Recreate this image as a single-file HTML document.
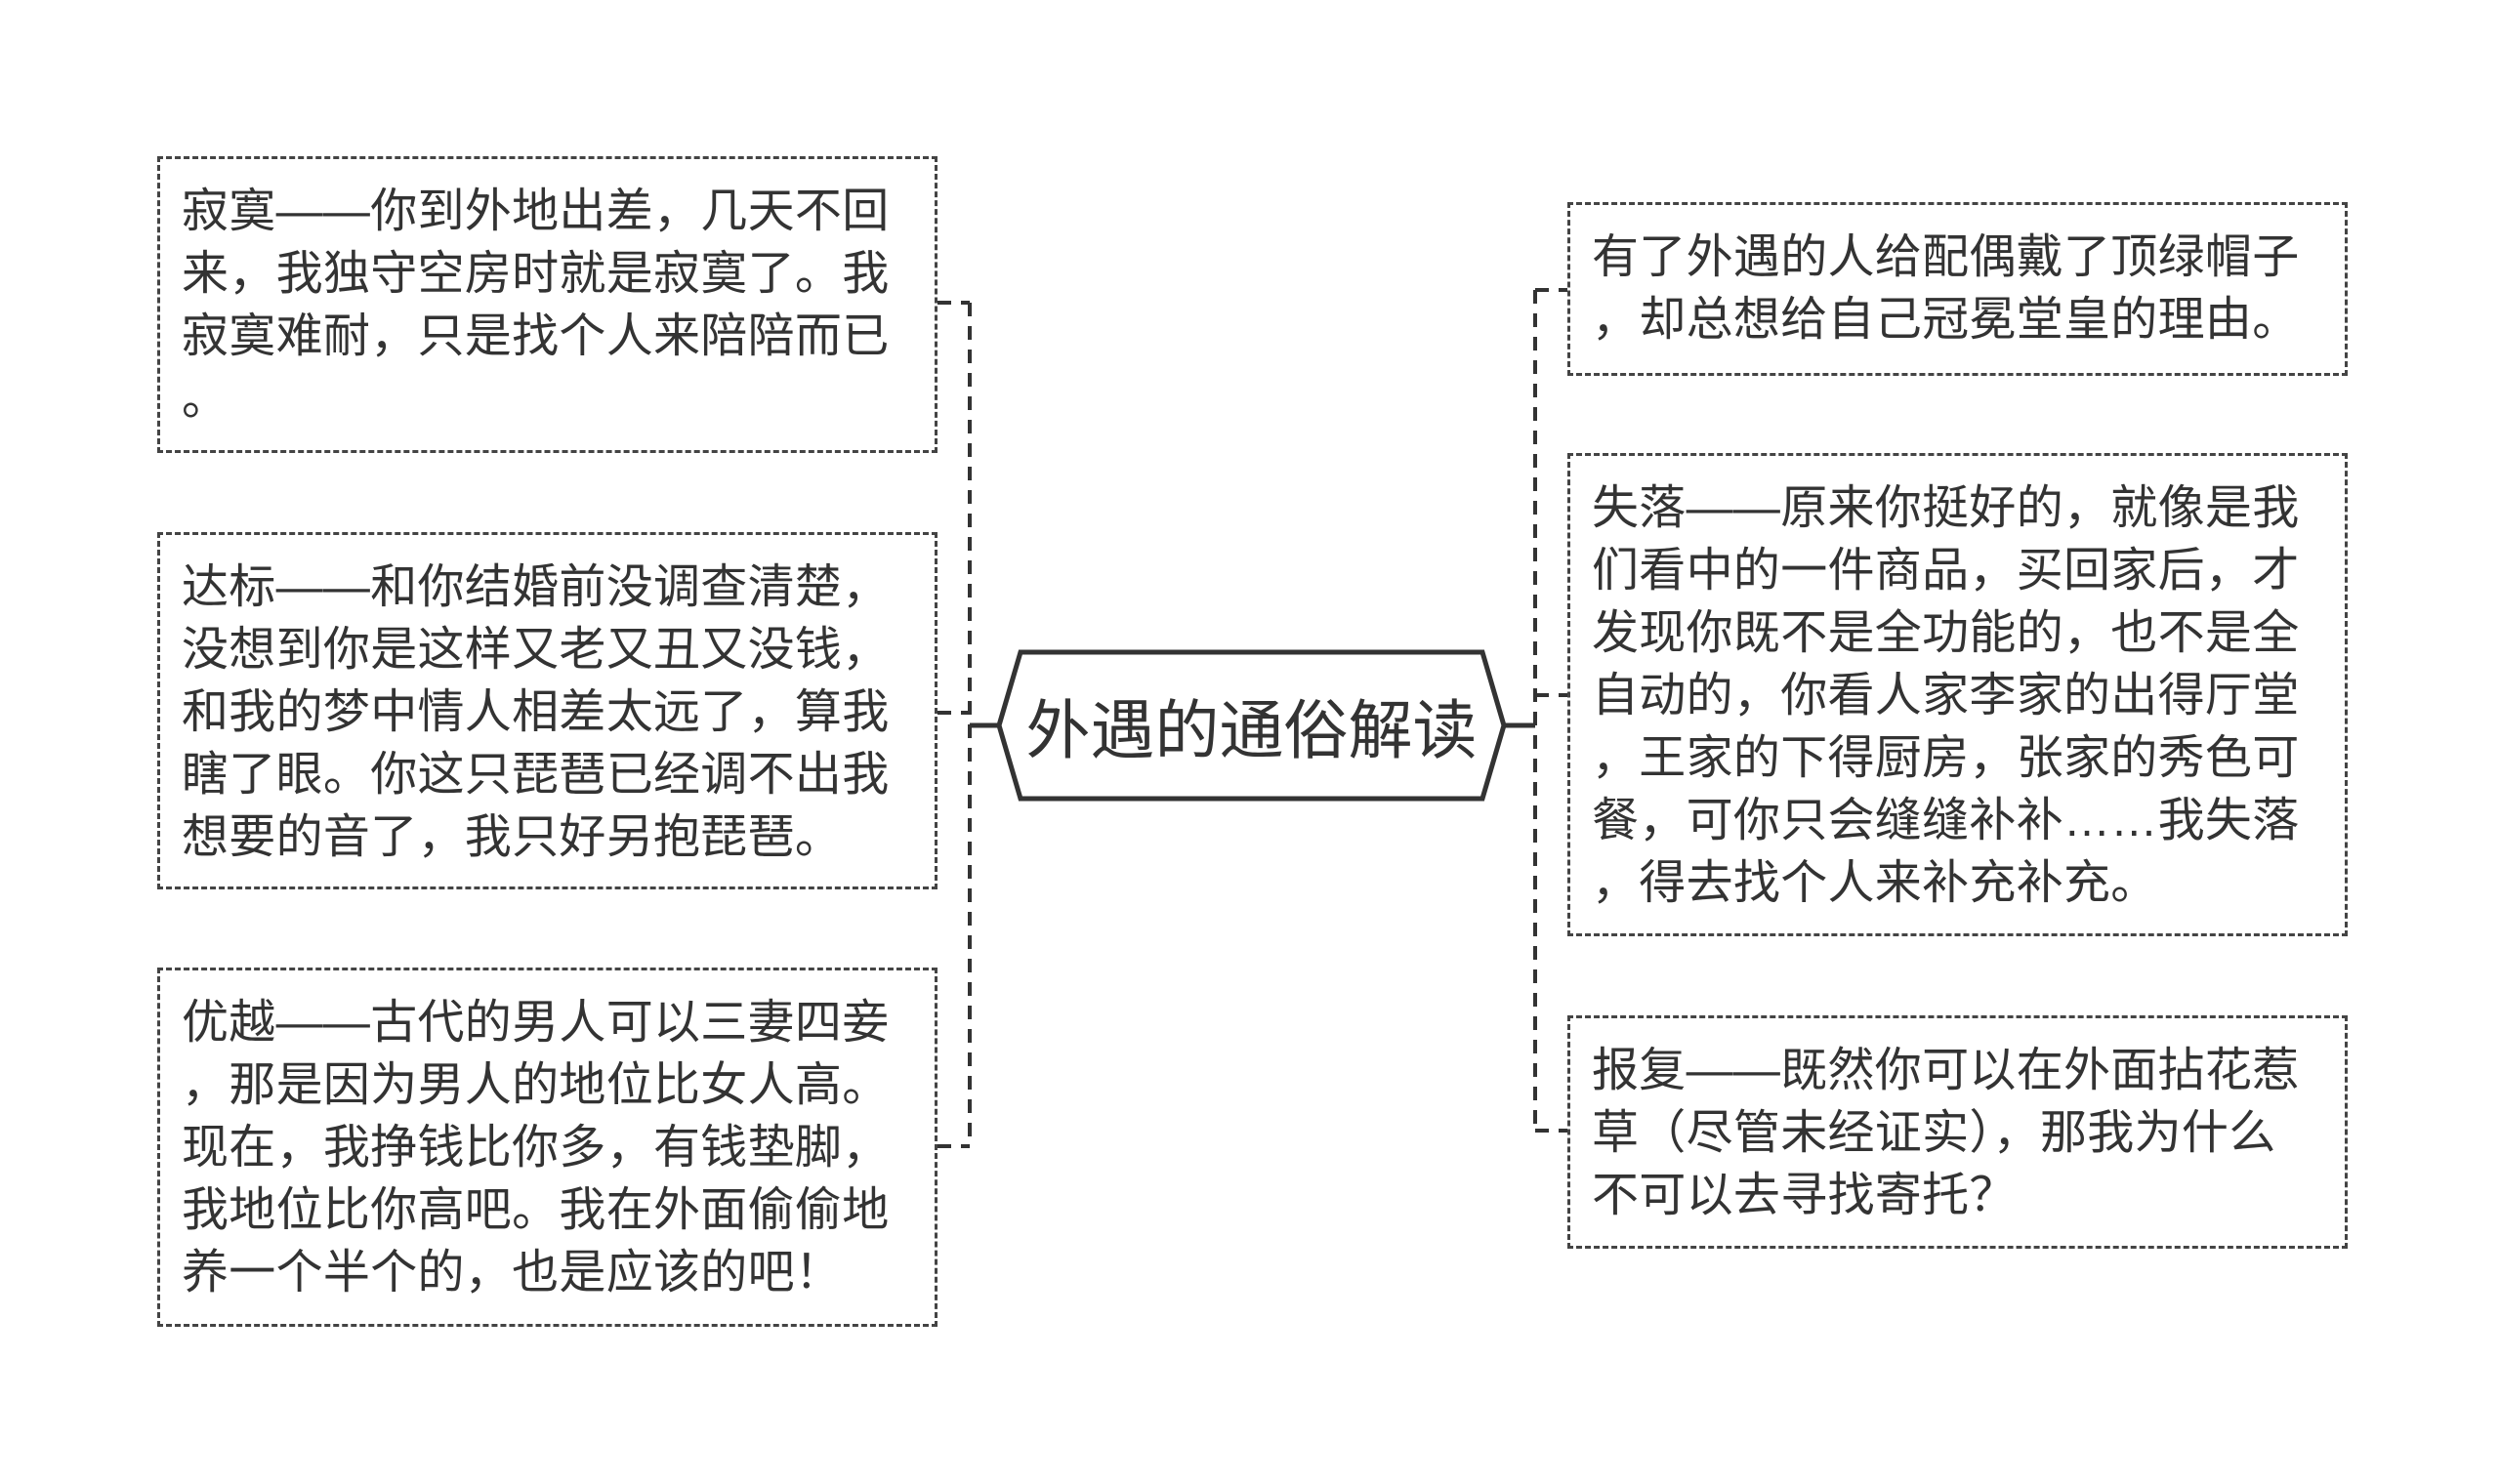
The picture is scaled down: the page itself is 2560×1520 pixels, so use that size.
<!DOCTYPE html>
<html><head><meta charset="utf-8"><style>
html,body{margin:0;padding:0;background:#fff;}
body{width:2560px;height:1520px;position:relative;overflow:hidden;font-family:"Liberation Sans","Noto Sans CJK SC",sans-serif;color:#333;}
.b{position:absolute;box-sizing:border-box;border:3px dashed #444;padding:22px 0 0 22px;font-size:48px;letter-spacing:0.3px;line-height:64px;white-space:nowrap;}
svg{position:absolute;left:0;top:0;}
.c{position:absolute;left:1023px;top:666px;width:517px;height:154px;display:flex;align-items:center;justify-content:center;font-size:66px;color:#333;}
</style></head><body>
<svg width="2560" height="1520">
<g stroke="#333" stroke-width="4" fill="none" stroke-dasharray="14,10">
<line x1="993" y1="310" x2="993" y2="1174"/>
<line x1="960" y1="310" x2="993" y2="310"/>
<line x1="960" y1="730" x2="993" y2="730"/>
<line x1="960" y1="1174" x2="993" y2="1174"/>
<line x1="1572" y1="297" x2="1572" y2="1158"/>
<line x1="1572" y1="297" x2="1605" y2="297"/>
<line x1="1572" y1="712" x2="1605" y2="712"/>
<line x1="1572" y1="1158" x2="1605" y2="1158"/>
</g>
<g stroke="#333" stroke-width="5" fill="none">
<line x1="993" y1="743" x2="1023" y2="743"/>
<line x1="1540" y1="743" x2="1572" y2="743"/>
<polygon points="1023,743 1045,668 1518,668 1540,743 1518,818 1045,818" fill="#fff"/>
</g>
</svg>
<div class="c">外遇的通俗解读</div>
<div class="b" style="left:161px;top:160px;width:799px;height:304px;">寂寞——你到外地出差，几天不回<br>来，我独守空房时就是寂寞了。我<br>寂寞难耐，只是找个人来陪陪而已<br>。</div>
<div class="b" style="left:161px;top:545px;width:799px;height:366px;">达标——和你结婚前没调查清楚，<br>没想到你是这样又老又丑又没钱，<br>和我的梦中情人相差太远了，算我<br>瞎了眼。你这只琵琶已经调不出我<br>想要的音了，我只好另抱琵琶。</div>
<div class="b" style="left:161px;top:991px;width:799px;height:368px;">优越——古代的男人可以三妻四妾<br>，那是因为男人的地位比女人高。<br>现在，我挣钱比你多，有钱垫脚，<br>我地位比你高吧。我在外面偷偷地<br>养一个半个的，也是应该的吧！</div>
<div class="b" style="left:1605px;top:207px;width:799px;height:178px;">有了外遇的人给配偶戴了顶绿帽子<br>，却总想给自己冠冕堂皇的理由。</div>
<div class="b" style="left:1605px;top:464px;width:799px;height:495px;">失落——原来你挺好的，就像是我<br>们看中的一件商品，买回家后，才<br>发现你既不是全功能的，也不是全<br>自动的，你看人家李家的出得厅堂<br>，王家的下得厨房，张家的秀色可<br>餐，可你只会缝缝补补……我失落<br>，得去找个人来补充补充。</div>
<div class="b" style="left:1605px;top:1040px;width:799px;height:239px;">报复——既然你可以在外面拈花惹<br>草（尽管未经证实），那我为什么<br>不可以去寻找寄托？</div>
</body></html>
